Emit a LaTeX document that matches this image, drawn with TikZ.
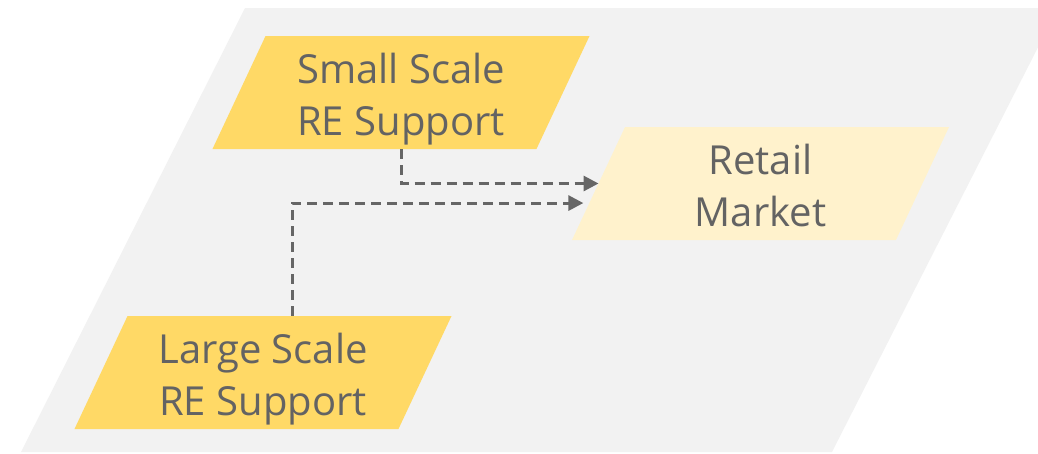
\documentclass[tikz,border=0pt]{standalone}
\usepackage{fontspec}
\setmainfont{Open Sans}
\usetikzlibrary{shapes.geometric,arrows.meta,calc}
\definecolor{bggray}{HTML}{F2F2F2}
\definecolor{boxyellow}{HTML}{FFD966}
\definecolor{paleyellow}{HTML}{FFF2CC}
\definecolor{txtgray}{HTML}{636363}
\definecolor{arrgray}{HTML}{666666}
\tikzset{
  para/.style={shape=trapezium, trapezium left angle=63.2, trapezium right angle=116.8,
    trapezium stretches body, minimum width=377pt, minimum height=113pt,
    inner sep=0pt, outer sep=0pt, draw=none, text=txtgray, align=center,
    font=\fontsize{40}{52}\selectfont, text height=95pt, text depth=10pt},
  strong/.style={para, fill=boxyellow},
  pale/.style={para, fill=paleyellow},
  arr/.style={draw=arrgray, line width=3pt, dash pattern=on 10pt off 6pt,
    -{Triangle[length=15pt,width=15pt]}}
}
\begin{document}
\begin{tikzpicture}[x=1pt,y=-1pt]
\useasboundingbox (0,0) rectangle (1038,453);
\begin{scope}
\clip (0,0) rectangle (1038,453);
\fill[bggray] (245,8) -- (1058,8) -- (832,452) -- (21,452) -- cycle;
\end{scope}
\node[strong] (s) at (401,92.5) {Small Scale\\RE Support};
\node[pale] (r) at (760.5,183.5) {Retail\\Market};
\node[strong] (l) at (263,372.5) {Large Scale\\RE Support};
\draw[arr] (s.south) |- ($(r.bottom left corner)!0.5!(r.top left corner)$);
\draw[arr] ([xshift=29pt]l.north) |- ([xshift=-6pt]$(r.bottom left corner)!0.327!(r.top left corner)$);
\end{tikzpicture}
\end{document}
